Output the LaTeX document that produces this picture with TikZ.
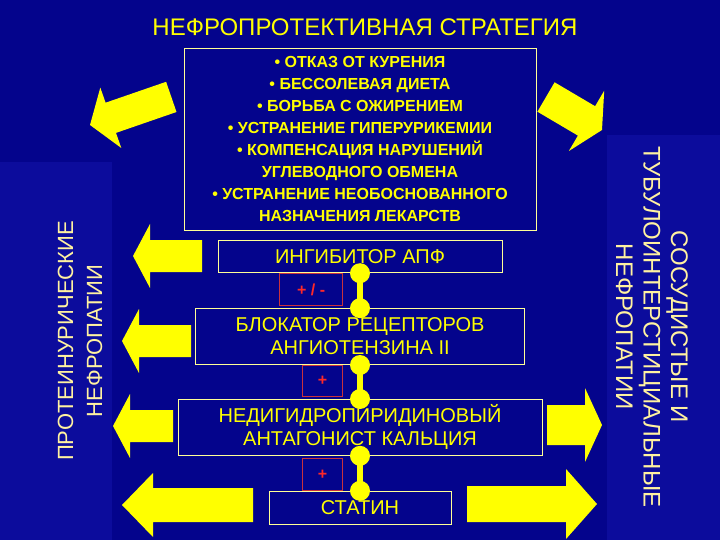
\documentclass[tikz,border=0pt]{standalone}
\usepackage{fontspec}
\setmainfont{Liberation Sans}
\usetikzlibrary{positioning, calc}

\definecolor{slideblue}{RGB}{4,4,140}
\definecolor{panelblue}{RGB}{12,12,156}
\definecolor{slideyellow}{RGB}{255,255,0}
\definecolor{boxline}{RGB}{255,255,150}
\definecolor{paleyellow}{RGB}{255,242,160}
\definecolor{signred}{RGB}{255,40,40}
\definecolor{signline}{RGB}{200,50,60}

\begin{document}
\begin{tikzpicture}[
    x=1pt, y=-1pt,
    drugbox/.style={
        draw=boxline,
        line width=0.8pt,
        fill=slideblue,
        inner sep=0pt,
        align=center,
        text=slideyellow,
        font=\fontsize{20}{23}\selectfont
    },
    advicebox/.style={
        draw=boxline,
        line width=0.8pt,
        fill=slideblue,
        inner sep=0pt,
        align=center,
        text=slideyellow,
        font=\bfseries\fontsize{16}{22}\selectfont
    },
    signbox/.style={
        draw=signline,
        line width=0.8pt,
        inner sep=0pt,
        text=signred,
        font=\bfseries\fontsize{16}{18}\selectfont
    },
    sidetext/.style={
        align=center,
        inner sep=0pt,
        text=paleyellow
    },
    link/.style={
        line width=6pt,
        slideyellow
    },
    bigarrow/.style={
        fill=slideyellow
    }
]

    % Background
    \fill[slideblue] (0,0) rectangle (720,540);
    \useasboundingbox (0,0) rectangle (720,540);
    \fill[panelblue] (0,162) rectangle (112,540);
    \fill[panelblue] (607,135) rectangle (720,540);

    % Title and advice box
    \node[text=slideyellow, font=\fontsize{24}{28}\selectfont] (title) at (365,27) {НЕФРОПРОТЕКТИВНАЯ СТРАТЕГИЯ};
    \node[advicebox, minimum width=352pt, minimum height=182pt] (advice) at (360,139) {%
        • ОТКАЗ ОТ КУРЕНИЯ\\
        • БЕССОЛЕВАЯ ДИЕТА\\
        • БОРЬБА С ОЖИРЕНИЕМ\\
        • УСТРАНЕНИЕ ГИПЕРУРИКЕМИИ\\
        • КОМПЕНСАЦИЯ НАРУШЕНИЙ\\
        УГЛЕВОДНОГО ОБМЕНА\\
        • УСТРАНЕНИЕ НЕОБОСНОВАННОГО\\
        НАЗНАЧЕНИЯ ЛЕКАРСТВ};

    % Drug boxes
    \node[drugbox, minimum width=284pt, minimum height=32pt, below=10pt of advice] (apf) {ИНГИБИТОР АПФ};
    \node[drugbox, minimum width=329pt, minimum height=56pt, below=35pt of apf] (arb) {БЛОКАТОР РЕЦЕПТОРОВ\\АНГИОТЕНЗИНА II};
    \node[drugbox, minimum width=364pt, minimum height=56pt, below=34pt of arb] (ccb) {НЕДИГИДРОПИРИДИНОВЫЙ\\АНТАГОНИСТ КАЛЬЦИЯ};
    \node[drugbox, minimum width=182pt, minimum height=33pt, below=35pt of ccb] (statin) {СТАТИН};

    % Sign boxes
    \node[signbox, minimum width=63pt, minimum height=32pt, anchor=north east] (signA) at ($(apf.south)+(-17pt,0)$) {+ / -};
    \node[signbox, minimum width=40pt, minimum height=31pt, anchor=north east] (signB) at ($(arb.south)+(-17pt,0)$) {+};
    \node[signbox, minimum width=40pt, minimum height=32pt, anchor=south east] (signC) at ($(statin.north)+(-17pt,0)$) {+};

    % Yellow links with dots
    \foreach \a/\b in {apf/arb, arb/ccb, ccb/statin} {
        \draw[link] (\a.south) -- (\b.north);
        \fill[slideyellow] (\a.south) circle (10pt) (\b.north) circle (10pt);
    }

    % Side texts
    \node[sidetext, rotate=90, font=\fontsize{22}{29}\selectfont] (protein) at (80,341) {ПРОТЕИНУРИЧЕСКИЕ\\НЕФРОПАТИИ};
    \node[sidetext, rotate=-90, font=\fontsize{24}{27.5}\selectfont] (vascular) at (652,327) {СОСУДИСТЫЕ И\\ТУБУЛОИНТЕРСТИЦИАЛЬНЫЕ\\НЕФРОПАТИИ};

    % Diagonal arrows
    \fill[bigarrow] (90,125) -- (100.3,87.6) -- (105.6,102.7) -- (166.1,81.8) -- (176.5,112.0) -- (116.0,132.9) -- (121.3,148.0) -- cycle;
    \fill[bigarrow] (602,130) -- (604.2,90.7) -- (595.1,106.2) -- (554.6,82.3) -- (537.4,111.7) -- (577.9,135.6) -- (568.8,151.1) -- cycle;

    % Left arrows
    \fill[bigarrow] (133,256) -- (150,224) -- (150,240) -- (202,240) -- (202,272) -- (150,272) -- (150,288) -- cycle;
    \fill[bigarrow] (122,341) -- (139,309) -- (139,325) -- (191,325) -- (191,357) -- (139,357) -- (139,373) -- cycle;
    \fill[bigarrow] (113,426) -- (130,394) -- (130,410) -- (173,410) -- (173,442) -- (130,442) -- (130,458) -- cycle;
    \fill[bigarrow] (122,505) -- (153,473) -- (153,488) -- (253,488) -- (253,522) -- (153,522) -- (153,537) -- cycle;

    % Right arrows
    \fill[bigarrow] (602,425) -- (585,388) -- (585,405) -- (547,405) -- (547,445) -- (585,445) -- (585,462) -- cycle;
    \fill[bigarrow] (597,504) -- (566,469) -- (566,486) -- (467,486) -- (467,522) -- (566,522) -- (566,539) -- cycle;

\end{tikzpicture}
\end{document}
